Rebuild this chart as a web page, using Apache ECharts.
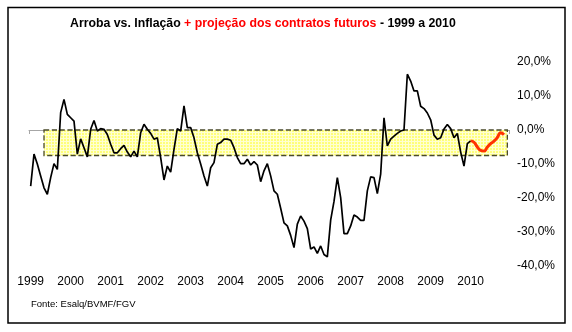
<!DOCTYPE html>
<html><head><meta charset="utf-8">
<script src="https://cdn.jsdelivr.net/npm/echarts@6/dist/echarts.min.js"></script>
<style>html,body{margin:0;padding:0;background:#fff}#c{width:572px;height:332px}</style>
</head><body><div id="c"></div>
<script>
// ---- data ----
const years = ['1999','2000','2001','2002','2003','2004','2005','2006','2007','2008','2009','2010'];
const months = [];
years.forEach(function(y){ for (let m = 1; m <= 12; m++) months.push(y + '-' + String(m).padStart(2, '0')); });

// Arroba vs. Inflação (%), monthly Jan/1999 - Jan/2010
const arrobaReal = [
  -16.5, -7.1, -10.0, -13.5, -17.0, -18.9, -14.0, -9.9, -11.6, 5.1, 9.0, 4.6,
  3.6, 2.6, -7.1, -2.6, -5.2, -7.9, 0.2, 2.8, -0.3, 0.4, 0.2, -1.3,
  -4.2, -6.7, -6.7, -5.5, -4.5, -6.5, -7.9, -6.2, -7.9, -0.8, 1.7, 0.2,
  -1.0, -2.7, -2.3, -8.1, -14.7, -10.6, -12.4, -5.7, 0.4, -0.3, 7.1, 0.7,
  0.7, -2.3, -6.7, -10.0, -13.5, -16.5, -11.1, -9.6, -4.2, -3.7, -2.7, -2.7,
  -3.0, -5.2, -8.1, -9.9, -9.9, -8.6, -10.3, -9.3, -10.3, -15.2, -12.0, -9.9,
  -13.5, -17.9, -18.9, -23.0, -27.3, -28.2, -31.0, -34.6, -27.7, -25.3, -26.8, -29.0,
  -35.0, -34.4, -36.3, -34.1, -36.6, -37.3, -26.5, -21.0, -14.0, -19.9, -30.5, -30.5,
  -28.2, -25.0, -25.6, -26.6, -26.6, -17.9, -13.8, -14.0, -18.7, -13.0, 3.6, -4.7,
  -2.7, -1.8, -1.0, -0.3, 0.0, 16.4, 14.4, 11.5, 11.5, 7.0, 6.3, 5.0,
  3.0, -1.5, -2.7, -2.3, 0.3, 1.6, 0.4, -2.3, -1.0, -6.5, -10.6, -4.0,
  -3.2
];
// projeção dos contratos futuros (%), Jan/2010 - Nov/2010
const projecao = [-3.2, -3.6, -5.0, -6.0, -6.2, -5.0, -4.0, -3.3, -2.2, -0.8, -1.4];
const projecaoStartIndex = 132;
const yTicks = { min: -40, max: 20, step: 10 };
const band = { from: 0, to: -7.5, startIndex: 4, endIndex: 143 };

// ---- build series ----
const blackData = months.map(function(_, i){ return i < arrobaReal.length ? arrobaReal[i] : null; });
const redData = months.map(function(_, i){
  const k = i - projecaoStartIndex; return (k >= 0 && k < projecao.length) ? projecao[k] : null; });

// yellow grid pattern
const pc = document.createElement('canvas'); pc.width = 3; pc.height = 3;
const px = pc.getContext('2d');
px.fillStyle = '#ffff7a'; px.fillRect(0, 0, 3, 3);
px.fillStyle = '#ffffd2'; px.fillRect(0, 0, 3, 1); px.fillRect(0, 0, 1, 3);

const chart = echarts.init(document.getElementById('c'), null, { renderer: 'canvas' });
const FONT = 'Liberation Sans, Arial, sans-serif';
chart.setOption({
  animation: false,
  backgroundColor: '#fff',
  title: {
    text: '{a|Arroba vs. Inflação }{b|+ projeção dos contratos futuros}{a| - 1999 a 2010}',
    left: 70, top: 18, padding: 0,
    textStyle: {
      rich: {
        a: { fontFamily: FONT, fontSize: 12.3, fontWeight: 'bold', color: '#000' },
        b: { fontFamily: FONT, fontSize: 12.3, fontWeight: 'bold', color: '#ff0000' }
      }
    }
  },
  grid: { left: 29, right: 63, top: 62, bottom: 66, containLabel: false },
  xAxis: [
    {
      type: 'category', data: months, boundaryGap: true, position: 'bottom',
      axisLine: { show: false, onZero: false }, axisTick: { show: false },
      axisLabel: { interval: 11, formatter: function(v){ return v.slice(0, 4); },
        color: '#000', fontSize: 12, fontFamily: FONT, margin: 10 },
      splitLine: { show: false }
    },
    {
      type: 'category', data: months, boundaryGap: true, position: 'top',
      axisLine: { show: true, onZero: true, lineStyle: { color: '#a6a6a6', width: 1 } },
      axisTick: { show: true, interval: 11, inside: true, length: 4, lineStyle: { color: '#a6a6a6', width: 1 } },
      axisLabel: { show: false }, splitLine: { show: false }
    }
  ],
  yAxis: {
    type: 'value', position: 'right', min: yTicks.min, max: yTicks.max, interval: yTicks.step,
    axisLine: { show: false }, axisTick: { show: false }, splitLine: { show: false },
    axisLabel: { formatter: function(v){ return v.toFixed(1).replace('.', ',') + '%'; },
      color: '#000', fontSize: 12, fontFamily: FONT, margin: 8 }
  },
  series: [
    {
      name: 'Arroba vs. Inflação', type: 'line', xAxisIndex: 0, data: blackData,
      symbol: 'none', connectNulls: false,
      lineStyle: { color: '#000', width: 1.7 },
      markArea: {
        silent: true,
        itemStyle: { color: { image: pc, repeat: 'repeat' }, borderColor: '#4a4a2a', borderType: 'dashed', borderWidth: 1.3 },
        data: [[
          { xAxis: months[band.startIndex], yAxis: band.from },
          { xAxis: months[band.endIndex], yAxis: band.to }
        ]]
      },
      z: 3
    },
    {
      name: 'Projeção', type: 'line', xAxisIndex: 0, data: redData,
      symbol: 'none', smooth: true,
      lineStyle: { color: '#ff3300', width: 3 }, z: 4
    }
  ],
  graphic: [
    { type: 'rect', shape: { x: 8, y: 7.5, width: 557, height: 315.5 },
      style: { fill: null, stroke: '#000', lineWidth: 1.5 }, silent: true },
    { type: 'text', left: 31, top: 299,
      style: { text: 'Fonte: Esalq/BVMF/FGV', fill: '#000', font: '9.5px ' + FONT } }
  ]
});
</script></body></html>
